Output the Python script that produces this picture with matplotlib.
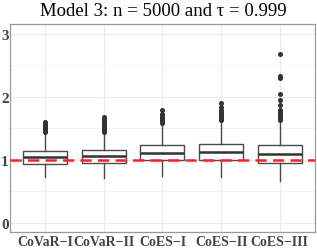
import matplotlib
matplotlib.use('Agg')
import matplotlib.pyplot as plt

# box summaries
labels = ['CoVaR\u2212I', 'CoVaR\u2212II', 'CoES\u2212I', 'CoES\u2212II', 'CoES\u2212III']
q1 = [0.93, 0.94, 1.00, 1.00, 0.95]
med = [1.04, 1.05, 1.11, 1.12, 1.08]
q3 = [1.14, 1.15, 1.23, 1.24, 1.23]
whislo = [0.72, 0.70, 0.74, 0.72, 0.66]
whishi = [1.42, 1.43, 1.56, 1.60, 1.62]
fliers = [
    [1.44, 1.46, 1.48, 1.50, 1.52, 1.54, 1.56, 1.59],
    [1.44, 1.46, 1.48, 1.50, 1.52, 1.54, 1.56, 1.58, 1.60, 1.62, 1.64, 1.67],
    [1.58, 1.60, 1.62, 1.64, 1.66, 1.68, 1.70, 1.72, 1.79],
    [1.62, 1.64, 1.66, 1.68, 1.70, 1.72, 1.76, 1.78, 1.84, 1.90],
    [1.63, 1.65, 1.67, 1.69, 1.71, 1.73, 1.75, 1.77, 1.79, 1.87, 1.94, 2.04, 2.30, 2.32, 2.67],
]
ref_value = 1.0
title = 'Model 3: n = 5000 and \u03c4 = 0.999'

stats = []
for i in range(len(labels)):
    stats.append(dict(label=labels[i], q1=q1[i], med=med[i], q3=q3[i],
                      whislo=whislo[i], whishi=whishi[i], fliers=fliers[i]))

plt.rcParams['font.family'] = ['Liberation Serif', 'DejaVu Serif']

fig = plt.figure(figsize=(3.17, 2.53), dpi=100)
ax = fig.add_axes([0.0315, 0.079, 0.9622, 0.822])

pos = list(range(1, len(labels) + 1))
ax.bxp(stats, positions=pos, widths=0.75, showcaps=False, patch_artist=True,
       boxprops=dict(facecolor='white', edgecolor='#4a4a4a', linewidth=1.0),
       medianprops=dict(color='#333333', linewidth=1.8),
       whiskerprops=dict(color='#4a4a4a', linewidth=1.0),
       flierprops=dict(marker='o', markersize=2.6, markerfacecolor='#333333',
                       markeredgecolor='#333333', linestyle='none'),
       zorder=3)

ax.axhline(ref_value, color='#FF2020', linestyle=(0, (4.5, 2.5)), linewidth=1.8, zorder=4)

ax.set_xlim(0.4, len(labels) + 0.6)
ax.set_ylim(-0.15, 3.15)
ax.set_xticks(pos)
ax.set_xticklabels(labels)
ax.set_yticks([0, 1, 2, 3])
ax.set_yticks([0.5, 1.5, 2.5], minor=True)
ax.grid(True, which='major', color='#EBEBEB', linewidth=0.8, zorder=0)
ax.grid(True, which='minor', axis='y', color='#F3F3F3', linewidth=0.6, zorder=0)
ax.set_axisbelow(True)
ax.tick_params(axis='both', which='both', length=0, pad=2)
ax.tick_params(axis='y', pad=1)
for t in ax.get_xticklabels() + ax.get_yticklabels():
    t.set_fontweight('bold')
    t.set_fontsize(10)
    t.set_color('#444444')
for t in ax.get_yticklabels():
    t.set_fontsize(11)
for s in ax.spines.values():
    s.set_color('#999999')
    s.set_linewidth(0.9)

fig.text(0.515, 0.955, title, ha='center', va='center', fontsize=13.5)

plt.savefig('out.png', dpi=100)
